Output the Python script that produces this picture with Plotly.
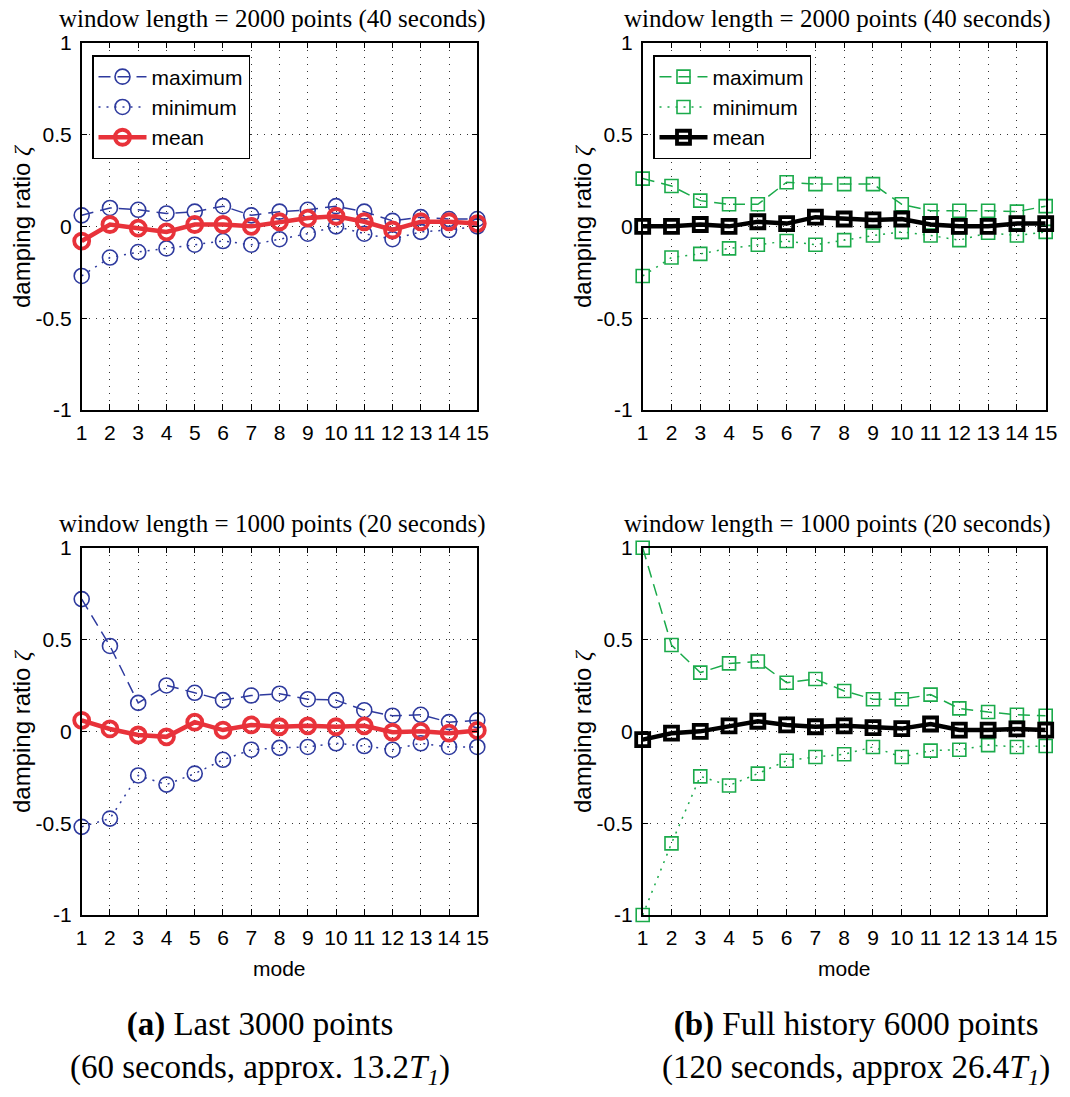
import plotly.graph_objects as go

modes = list(range(1, 16))

# (a) Last 3000 points, window 2000
a2000_max = [0.06, 0.10, 0.09, 0.07, 0.08, 0.11, 0.06, 0.08, 0.09, 0.11, 0.08, 0.03, 0.05, 0.04, 0.04]
a2000_min = [-0.27, -0.17, -0.14, -0.12, -0.10, -0.08, -0.10, -0.07, -0.04, 0.00, -0.04, -0.07, -0.03, -0.02, 0.00]
a2000_mean = [-0.08, 0.01, -0.01, -0.03, 0.01, 0.01, 0.00, 0.025, 0.045, 0.055, 0.025, -0.02, 0.025, 0.025, 0.015]

# (b) Full history, window 2000
b2000_max = [0.26, 0.22, 0.14, 0.12, 0.12, 0.24, 0.23, 0.23, 0.23, 0.12, 0.085, 0.085, 0.085, 0.08, 0.11]
b2000_min = [-0.27, -0.17, -0.15, -0.12, -0.10, -0.08, -0.10, -0.075, -0.05, -0.03, -0.05, -0.075, -0.035, -0.05, -0.03]
b2000_mean = [0.0, 0.0, 0.01, 0.0, 0.025, 0.015, 0.05, 0.04, 0.035, 0.04, 0.01, 0.0, 0.0, 0.015, 0.015]

# (a) window 1000
a1000_max = [0.72, 0.465, 0.155, 0.25, 0.21, 0.17, 0.195, 0.205, 0.175, 0.17, 0.115, 0.085, 0.09, 0.05, 0.06]
a1000_min = [-0.52, -0.475, -0.24, -0.29, -0.23, -0.155, -0.10, -0.09, -0.085, -0.065, -0.08, -0.10, -0.065, -0.085, -0.085]
a1000_mean = [0.06, 0.013, -0.02, -0.03, 0.05, 0.007, 0.035, 0.025, 0.03, 0.025, 0.03, -0.005, 0.0, -0.01, 0.005]

# (b) window 1000
b1000_max = [1.0, 0.47, 0.32, 0.37, 0.38, 0.265, 0.285, 0.22, 0.175, 0.175, 0.20, 0.125, 0.105, 0.09, 0.085]
b1000_min = [-1.0, -0.61, -0.245, -0.295, -0.23, -0.16, -0.14, -0.125, -0.085, -0.14, -0.105, -0.10, -0.075, -0.085, -0.08]
b1000_mean = [-0.045, -0.01, 0.0, 0.03, 0.055, 0.035, 0.025, 0.03, 0.02, 0.015, 0.04, 0.007, 0.007, 0.013, 0.007]

series_names = ["maximum", "minimum", "mean"]
y_ticks = [-1, -0.5, 0, 0.5, 1]
y_tick_text = ["-1", "-0.5", "0", "0.5", "1"]
titles = ["window length = 2000 points (40 seconds)", "window length = 1000 points (20 seconds)"]
caption_a = "<b>(a)</b> Last 3000 points<br>(60 seconds, approx. 13.2<i>T</i><sub><i>1</i></sub>)"
caption_b = "<b>(b)</b> Full history 6000 points<br>(120 seconds, approx 26.4<i>T</i><sub><i>1</i></sub>)"

BLUE = "#2E3A9E"
RED = "#E8323A"
GREEN = "#1AAA4A"
BLACK = "#000000"
SANS = "Liberation Sans, Arial, sans-serif"
SERIF = "Liberation Serif, Times New Roman, serif"

W, H = 1070, 1097
X_LEFT = (81.7, 477.3)
X_RIGHT = (642.7, 1045.7)
Y_TOP = (42.7, 410.0)
Y_BOT = (547.7, 915.0)

def xd(px):
    return [px[0] / W, px[1] / W]

def yd(py):
    return [1 - py[1] / H, 1 - py[0] / H]

fig = go.Figure()

panels = [
    ("", X_LEFT, Y_TOP, (a2000_max, a2000_min, a2000_mean), BLUE, RED, "circle-open", "legend"),
    ("2", X_RIGHT, Y_TOP, (b2000_max, b2000_min, b2000_mean), GREEN, BLACK, "square-open", "legend2"),
    ("3", X_LEFT, Y_BOT, (a1000_max, a1000_min, a1000_mean), BLUE, RED, "circle-open", None),
    ("4", X_RIGHT, Y_BOT, (b1000_max, b1000_min, b1000_mean), GREEN, BLACK, "square-open", None),
]

for ax, xpx, ypx, (ymax, ymin, ymean), col, mcol, sym, leg in panels:
    msize = 15 if sym == "circle-open" else 13
    styles = [
        dict(color=col, width=1.5, dash="12px,7px"),
        dict(color=col, width=1.5, dash="2px,6px"),
        dict(color=mcol, width=4.5, dash="solid"),
    ]
    mlines = [1.6, 1.6, 3.8]
    for name, yv, ls, mlw in zip(series_names, (ymax, ymin, ymean), styles, mlines):
        tr = go.Scatter(
            x=modes, y=yv, name=name, mode="lines+markers",
            line=ls,
            marker=dict(symbol=sym, size=msize, color=ls["color"], line=dict(width=mlw, color=ls["color"])),
            xaxis="x" + ax, yaxis="y" + ax,
            cliponaxis=False,
            showlegend=leg is not None,
        )
        if leg is not None:
            tr.legend = leg
        fig.add_trace(tr)

    axis_common = dict(
        showline=True, linecolor="black", linewidth=1.5, mirror="ticks",
        ticks="inside", ticklen=6, tickwidth=1, tickcolor="black",
        showgrid=True, gridcolor="#333333", gridwidth=1, griddash="1px,6px",
        zeroline=False, automargin=False, tickangle=0,
        tickfont=dict(family=SANS, size=21, color="black"),
    )
    fig.update_layout(**{
        "xaxis" + ax: dict(domain=xd(xpx), range=[1, 15], tickvals=modes, ticktext=[str(m) for m in modes],
                            anchor="y" + ax, ticklabelstandoff=3, **axis_common),
        "yaxis" + ax: dict(domain=yd(ypx), range=[-1, 1], tickvals=y_ticks, ticktext=y_tick_text,
                            anchor="x" + ax, ticklabelstandoff=4, **axis_common),
    })

annotations = []
for xpx, ypx, t in [(X_LEFT, Y_TOP, titles[0]), (X_RIGHT, Y_TOP, titles[0]),
                     (X_LEFT, Y_BOT, titles[1]), (X_RIGHT, Y_BOT, titles[1])]:
    annotations.append(dict(
        text=t, xref="paper", yref="paper",
        x=((xpx[0] + xpx[1]) / 2 - 7) / W, y=1 - (ypx[0] - 24) / H,
        xanchor="center", yanchor="middle", showarrow=False,
        font=dict(family=SERIF, size=25, color="black"),
    ))
for xpx, ypx in [(X_LEFT, Y_TOP), (X_RIGHT, Y_TOP), (X_LEFT, Y_BOT), (X_RIGHT, Y_BOT)]:
    annotations.append(dict(
        text="damping ratio <span style='font-family:Liberation Serif'><i>ζ</i></span>",
        xref="paper", yref="paper",
        x=(xpx[0] - 60) / W, y=1 - ((ypx[0] + ypx[1]) / 2) / H,
        xanchor="center", yanchor="middle", textangle=-90, showarrow=False,
        font=dict(family=SANS, size=24, color="black"),
    ))
for xpx in [X_LEFT, X_RIGHT]:
    annotations.append(dict(
        text="mode", xref="paper", yref="paper",
        x=((xpx[0] + xpx[1]) / 2) / W, y=1 - 968 / H,
        xanchor="center", yanchor="middle", showarrow=False,
        font=dict(family=SANS, size=21, color="black"),
    ))
annotations.append(dict(text=caption_a, xref="paper", yref="paper", x=260 / W, y=1 - 1048 / H,
                        xanchor="center", yanchor="middle", showarrow=False, align="center",
                        font=dict(family=SERIF, size=33, color="black")))
annotations.append(dict(text=caption_b, xref="paper", yref="paper", x=856 / W, y=1 - 1048 / H,
                        xanchor="center", yanchor="middle", showarrow=False, align="center",
                        font=dict(family=SERIF, size=33, color="black")))

legend_common = dict(
    bgcolor="white", bordercolor="black", borderwidth=1.5,
    font=dict(family=SANS, size=21, color="black"),
    xanchor="left", yanchor="top", tracegroupgap=0, itemwidth=48,
)
fig.update_layout(
    width=W, height=H,
    margin=dict(l=0, r=0, t=0, b=0, autoexpand=False),
    paper_bgcolor="white", plot_bgcolor="white",
    annotations=annotations,
    legend=dict(x=92 / W, y=1 - 55 / H, **legend_common),
    legend2=dict(x=653 / W, y=1 - 55 / H, **legend_common),
)

fig.write_html(
    "out.html",
    config={"displayModeBar": False},
    post_script="document.body.style.margin='0';document.body.style.overflow='hidden';",
)
